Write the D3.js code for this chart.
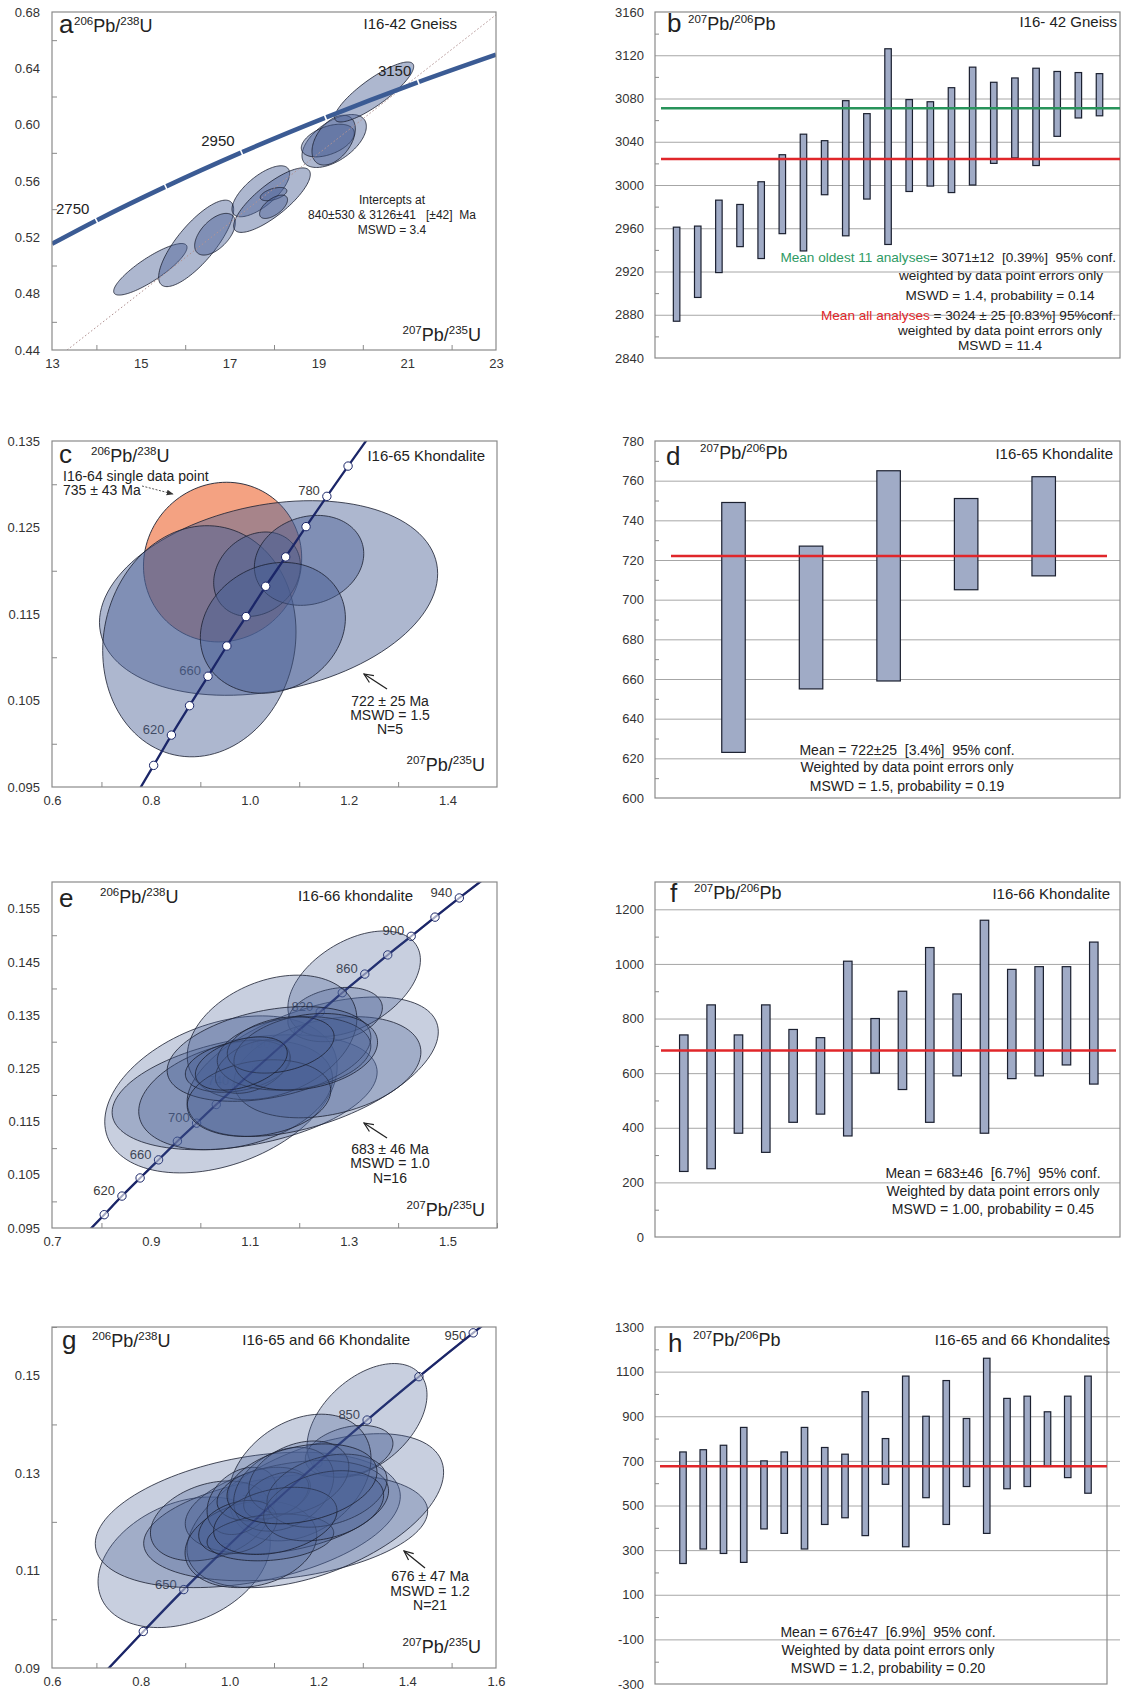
<!DOCTYPE html>
<html>
<head>
<meta charset="utf-8">
<script src="https://cdn.jsdelivr.net/npm/d3@7"></script>
<style>
  body { margin: 0; background: #fff; }
  text { font-family: "Liberation Sans", Arial, Helvetica, sans-serif; }
</style>
</head>
<body>
<script>
// ===================== DATA =====================

// a — I16-42 gneiss, U-Pb concordia (207Pb/235U vs 206Pb/238U)
const aConcAge = [2680, 2750, 2850, 2950, 3050, 3150, 3227];
const aConcX   = [13.00, 14.00, 15.56, 17.27, 19.16, 21.25, 23.00];
const aConcY   = [0.5154, 0.5320, 0.5560, 0.5803, 0.6050, 0.6302, 0.6497];
const aAgeTicks  = [2750, 2850, 2950, 3050, 3150];
const aAgeLabels = [2750, 2950, 3150];
const aDiscX = [13.34, 23.0];
const aDiscY = [0.44, 0.678];
const aEllX   = [15.215, 16.247, 16.671, 17.703, 17.955, 17.99, 17.99, 19.355, 19.212, 19.344, 20.256];
const aEllY   = [0.4973, 0.5157, 0.5222, 0.5527, 0.5464, 0.5507, 0.5417, 0.5884, 0.5887, 0.5890, 0.6232];
const aEllSx  = [0.826, 0.845, 0.458, 0.649, 0.863, 0.300, 0.315, 0.725, 0.597, 0.488, 0.890];
const aEllSy  = [0.0183, 0.0307, 0.0148, 0.0181, 0.0229, 0.0047, 0.0083, 0.0188, 0.0116, 0.0177, 0.0213];
const aEllRho = [0.85, 0.78, 0.55, 0.70, 0.80, 0.50, 0.60, 0.55, 0.45, 0.45, 0.85];
const aXTicks = [13, 15, 17, 19, 21, 23];
const aXMinor = [14, 16, 18, 20, 22];
const aYTicks = [0.44, 0.48, 0.52, 0.56, 0.60, 0.64, 0.68];
const aYMinor = [0.46, 0.50, 0.54, 0.58, 0.62, 0.66];

// b — I16-42 gneiss, 207Pb/206Pb ages (Ma), 2-sigma error bars
const bLow  = [2874, 2896, 2919, 2943, 2932, 2955, 2939, 2991, 2953, 2987, 2945, 2994, 2999, 2993, 3000, 3020, 3025, 3018, 3045, 3062, 3064];
const bHigh = [2961, 2962, 2986, 2982, 3003, 3028, 3047, 3041, 3078, 3066, 3126, 3079, 3077, 3090, 3109, 3095, 3099, 3108, 3105, 3104, 3103];
const bMeanOldest = 3071;
const bMeanAll = 3024;
const bTicks = [2840, 2880, 2920, 2960, 3000, 3040, 3080, 3120, 3160];
const bMinor = [2860, 2900, 2940, 2980, 3020, 3060, 3100, 3140];

// shared Neoproterozoic concordia nodes (age Ma, 207Pb/235U, 206Pb/238U)
const youngAge = [560, 580, 600, 620, 640, 660, 680, 700, 720, 740, 760, 780, 800, 820, 840, 860, 880, 900, 920, 940, 960, 980];
const youngX   = [0.7358, 0.7704, 0.8056, 0.8415, 0.8782, 0.9155, 0.9536, 0.9925, 1.0322, 1.0726, 1.1138, 1.1559, 1.1988, 1.2425, 1.2871, 1.3326, 1.3790, 1.4264, 1.4746, 1.5238, 1.5740, 1.6252];
const youngY   = [0.0908, 0.0941, 0.0975, 0.1010, 0.1044, 0.1078, 0.1113, 0.1147, 0.1182, 0.1216, 0.1251, 0.1286, 0.1321, 0.1356, 0.1392, 0.1427, 0.1463, 0.1498, 0.1534, 0.1570, 0.1606, 0.1642];

// c — I16-65 khondalite (+ I16-64 single point)
const cTickAges  = [600, 620, 640, 660, 680, 700, 720, 740, 760, 780, 800];
const cLabelAges = [620, 660, 700, 740, 780];
const cSingleX = 0.945, cSingleY = 0.1210, cSingleSx = 0.160, cSingleSy = 0.00923, cSingleRho = 0.05;
const cEllX   = [1.038, 0.898, 1.0147, 1.1199, 1.0467];
const cEllY   = [0.11685, 0.11185, 0.1196, 0.1212, 0.1134];
const cEllSx  = [0.342, 0.1955, 0.0877, 0.1106, 0.1467];
const cEllSy  = [0.01125, 0.01336, 0.00488, 0.0052, 0.00756];
const cEllRho = [0.25, 0.08, 0.20, 0.15, 0.15];
const cXTicks = [0.6, 0.8, 1.0, 1.2, 1.4];
const cXMinor = [0.7, 0.9, 1.1, 1.3];
const cYTicks = [0.095, 0.105, 0.115, 0.125, 0.135];
const cYMinor = [0.100, 0.110, 0.120, 0.130];

// d — I16-65 khondalite, 207Pb/206Pb ages
const dLow  = [623, 655, 659, 705, 712];
const dHigh = [749, 727, 765, 751, 762];
const dMean = 722;
const dTicks = [600, 620, 640, 660, 680, 700, 720, 740, 760, 780];
const dMinor = [610, 630, 650, 670, 690, 710, 730, 750, 770];

// e — I16-66 khondalite
const eTickAges  = [600, 620, 640, 660, 680, 700, 720, 740, 760, 780, 800, 820, 840, 860, 880, 900, 920, 940];
const eLabelAges = [620, 660, 700, 740, 780, 820, 860, 900, 940];
const eEllX   = [1.0417, 1.0896, 1.0714, 1.2273, 1.2571, 1.3111, 1.2726, 1.1450, 1.1389, 1.0761, 1.1058, 1.1895, 1.1186, 1.2132, 1.1625, 1.0829];
const eEllY   = [0.1201, 0.1205, 0.1200, 0.1253, 0.1252, 0.1409, 0.1351, 0.1308, 0.1277, 0.1254, 0.1253, 0.1278, 0.1194, 0.1281, 0.1294, 0.1259];
const eEllSx  = [0.235, 0.268, 0.196, 0.254, 0.189, 0.134, 0.0956, 0.1715, 0.206, 0.1064, 0.0753, 0.1553, 0.1452, 0.1452, 0.108, 0.0929];
const eEllSy  = [0.01475, 0.0108, 0.0103, 0.0131, 0.0095, 0.0099, 0.0051, 0.0117, 0.0089, 0.0049, 0.0050, 0.0069, 0.0072, 0.0072, 0.0053, 0.0050];
const eEllRho = [0.35, 0.35, 0.30, 0.50, 0.30, 0.45, 0.25, 0.30, 0.35, 0.30, 0.40, 0.20, 0.20, 0.25, 0.30, 0.40];
const eXTicks = [0.7, 0.9, 1.1, 1.3, 1.5];
const eXMinor = [0.8, 1.0, 1.2, 1.4, 1.6];
const eYTicks = [0.095, 0.105, 0.115, 0.125, 0.135, 0.145, 0.155];
const eYMinor = [0.100, 0.110, 0.120, 0.130, 0.140, 0.150];

// f — I16-66 khondalite, 207Pb/206Pb ages
const fLow  = [240, 250, 380, 310, 420, 450, 370, 600, 540, 420, 590, 380, 580, 590, 630, 560];
const fHigh = [740, 850, 740, 850, 760, 730, 1010, 800, 900, 1060, 890, 1160, 980, 990, 990, 1080];
const fMean = 683;
const fTicks = [0, 200, 400, 600, 800, 1000, 1200];
const fMinor = [100, 300, 500, 700, 900, 1100];

// g — I16-65 and 66 khondalites combined
const gConcAge = [550, 600, 650, 700, 750, 800, 850, 900, 950, 1000];
const gConcX   = [0.7188, 0.8056, 0.8968, 0.9925, 1.0931, 1.1988, 1.3097, 1.4264, 1.5487, 1.6774];
const gConcY   = [0.0891, 0.0975, 0.1061, 0.1147, 0.1234, 0.1321, 0.1409, 0.1498, 0.1588, 0.1678];
const gTickAges  = [600, 650, 700, 750, 800, 850, 900, 950];
const gLabelAges = [650, 750, 850, 950];
const gEllX   = [0.8977, 1.041, 1.1263, 1.193, 1.3095, 1.2692, 1.1582, 1.1291, 0.9568, 1.048, 1.0281, 1.0769, 1.1218, 1.1049, 1.156, 1.0186, 1.0919, 1.2194, 1.2118, 1.103, 1.1631];
const gEllY   = [0.1117, 0.1204, 0.1189, 0.1223, 0.1408, 0.1345, 0.1291, 0.1230, 0.1202, 0.1154, 0.1243, 0.1257, 0.1267, 0.1254, 0.1291, 0.1189, 0.1168, 0.1264, 0.1233, 0.1202, 0.1278];
const gEllSx  = [0.194, 0.3435, 0.3198, 0.289, 0.1351, 0.0987, 0.1603, 0.229, 0.1351, 0.1483, 0.0788, 0.1051, 0.1126, 0.0732, 0.1126, 0.0882, 0.1426, 0.1351, 0.1351, 0.1389, 0.1689];
const gEllSy  = [0.0134, 0.0139, 0.0110, 0.0158, 0.0117, 0.0053, 0.0130, 0.0096, 0.0082, 0.0089, 0.0069, 0.0055, 0.0086, 0.0048, 0.0075, 0.0055, 0.0048, 0.0075, 0.0072, 0.0069, 0.0082];
const gEllRho = [0.30, 0.35, 0.30, 0.50, 0.45, 0.30, 0.30, 0.35, 0.30, 0.20, 0.30, 0.30, 0.30, 0.40, 0.30, 0.30, 0.20, 0.30, 0.30, 0.30, 0.30];
const gXTicks = [0.6, 0.8, 1.0, 1.2, 1.4, 1.6];
const gXMinor = [0.7, 0.9, 1.1, 1.3, 1.5];
const gYTicks = [0.09, 0.11, 0.13, 0.15];
const gYMinor = [0.10, 0.12, 0.14, 0.16];

// h — I16-65 and 66 khondalites, 207Pb/206Pb ages
const hLow  = [240, 305, 285, 245, 395, 375, 305, 415, 445, 365, 595, 315, 535, 415, 585, 375, 575, 585, 675, 625, 555];
const hHigh = [740, 750, 770, 850, 700, 740, 850, 760, 730, 1010, 800, 1080, 900, 1060, 890, 1160, 980, 990, 920, 990, 1080];
const hMean = 676;
const hTicks = [-300, -100, 100, 300, 500, 700, 900, 1100, 1300];
const hMinor = [-200, 0, 200, 400, 600, 800, 1000, 1200];

// ===================== DRAWING =====================
const W = 1121, H = 1693;
const svg = d3.select("body").append("svg")
  .attr("width", W).attr("height", H).style("display", "block");
svg.append("rect").attr("width", W).attr("height", H).attr("fill", "#fff");
const defs = svg.append("defs");

defs.append("marker").attr("id", "arrowOpen")
  .attr("viewBox", "0 0 12 12").attr("refX", 11).attr("refY", 6)
  .attr("markerWidth", 11).attr("markerHeight", 11)
  .attr("markerUnits", "userSpaceOnUse").attr("orient", "auto")
  .append("path").attr("d", "M1,1.5 L11,6 L1,10.5")
  .attr("fill", "none").attr("stroke", "#222").attr("stroke-width", 1.3);
defs.append("marker").attr("id", "arrowSmall")
  .attr("viewBox", "0 0 10 10").attr("refX", 9).attr("refY", 5)
  .attr("markerWidth", 7).attr("markerHeight", 7)
  .attr("markerUnits", "userSpaceOnUse").attr("orient", "auto")
  .append("path").attr("d", "M0,1 L10,5 L0,9 Z").attr("fill", "#333");

const FRAME = "#8a8a8a";
const LABEL = "#333";
const ELL_FILL = "#4a5f94";
const ELL_STROKE = "#1c2233";
const CONC = "#1b2668";

const closedLine = d3.line().curve(d3.curveLinearClosed);
function ellipsePoints(x, y, cx, cy, ax, ay, rho) {
  const k = Math.sqrt(1 - rho * rho);
  return d3.range(120).map(i => {
    const t = i / 120 * 2 * Math.PI;
    return [x(cx + ax * Math.cos(t)), y(cy + ay * (rho * Math.cos(t) + k * Math.sin(t)))];
  });
}

// text with superscript isotope masses, e.g. 206Pb/238U
function isoText(parent, x, y, parts, size, anchor) {
  const t = parent.append("text").attr("x", x).attr("y", y)
    .attr("font-size", size).attr("fill", "#222")
    .attr("text-anchor", anchor || "start");
  let raised = false;
  parts.forEach(([s, sup]) => {
    const ts = t.append("tspan").text(s);
    if (sup) { ts.attr("font-size", size * 0.64); if (!raised) ts.attr("dy", -size * 0.38); raised = true; }
    else { if (raised) ts.attr("dy", size * 0.38); raised = false; }
  });
  return t;
}
const PB206_U238 = [["206", 1], ["Pb/", 0], ["238", 1], ["U", 0]];
const PB207_U235 = [["207", 1], ["Pb/", 0], ["235", 1], ["U", 0]];
const PB207_PB206 = [["207", 1], ["Pb/", 0], ["206", 1], ["Pb", 0]];

function plainText(parent, x, y, str, size, anchor, color) {
  return parent.append("text").attr("x", x).attr("y", y)
    .attr("font-size", size).attr("fill", color || "#222")
    .attr("text-anchor", anchor || "start")
    .style("white-space", "pre").text(str);
}

function styleAxis(s) {
  s.select(".domain").remove();
  s.selectAll("text").attr("font-size", 13).attr("fill", LABEL)
    .attr("font-family", "Liberation Sans, Arial, sans-serif");
  s.selectAll("line").attr("stroke", FRAME);
}

function makeFrame(g, box) {
  g.append("rect").attr("x", box[0]).attr("y", box[1])
    .attr("width", box[2] - box[0]).attr("height", box[3] - box[1])
    .attr("fill", "none").attr("stroke", FRAME).attr("stroke-width", 1.2);
}

// ---------- concordia-style panel ----------
function concordiaPanel(id, box, xDomain, yDomain, xTicks, xMinor, xFmt, yTicks, yMinor, yFmt) {
  const g = svg.append("g");
  const x = d3.scaleLinear().domain(xDomain).range([box[0], box[2]]);
  const y = d3.scaleLinear().domain(yDomain).range([box[3], box[1]]);
  defs.append("clipPath").attr("id", "clip-" + id).append("rect")
    .attr("x", box[0]).attr("y", box[1]).attr("width", box[2] - box[0]).attr("height", box[3] - box[1]);
  const under = g.append("g");
  const inner = g.append("g").attr("clip-path", `url(#clip-${id})`);

  g.append("g").attr("transform", `translate(${box[0]},0)`)
    .call(d3.axisLeft(y).tickValues(yTicks).tickSize(0).tickPadding(12).tickFormat(d3.format(yFmt)))
    .call(styleAxis);
  g.append("g").attr("transform", `translate(0,${box[3]})`)
    .call(d3.axisBottom(x).tickValues(xTicks).tickSize(0).tickPadding(9).tickFormat(d3.format(xFmt)))
    .call(styleAxis);
  g.append("g").attr("transform", `translate(${box[0]},0)`)
    .call(d3.axisLeft(y).tickValues(yMinor).tickSize(-5).tickFormat(""))
    .call(styleAxis);
  g.append("g").attr("transform", `translate(0,${box[3]})`)
    .call(d3.axisBottom(x).tickValues(xMinor).tickSize(-5).tickFormat(""))
    .call(styleAxis);
  return { g, under, inner, x, y, box };
}

function drawEllipses(P, X, Y, SX, SY, R, opacity) {
  P.inner.append("g").selectAll("path").data(d3.range(X.length)).join("path")
    .attr("d", i => closedLine(ellipsePoints(P.x, P.y, X[i], Y[i], SX[i], SY[i], R[i])))
    .attr("fill", ELL_FILL).attr("fill-opacity", opacity)
    .attr("stroke", ELL_STROKE).attr("stroke-width", 0.9).attr("stroke-opacity", 0.9);
}

function concordiaPath(P, ages, X, Y) {
  return d3.line().x(i => P.x(X[i])).y(i => P.y(Y[i])).curve(d3.curveMonotoneX)(d3.range(ages.length));
}
function drawYoungConcordia(P, ages, X, Y, tickAges, layer) {
  layer.append("path").attr("d", concordiaPath(P, ages, X, Y))
    .attr("fill", "none").attr("stroke", CONC).attr("stroke-width", 2.3);
  layer.append("g").selectAll("circle").data(tickAges).join("circle")
    .attr("cx", a => P.x(X[ages.indexOf(a)]))
    .attr("cy", a => P.y(Y[ages.indexOf(a)]))
    .attr("r", 4.2).attr("fill", "#fff").attr("stroke", CONC).attr("stroke-width", 1);
}
function drawAgeLabels(P, ages, X, Y, labelAges, size) {
  P.under.append("g").selectAll("text").data(labelAges).join("text")
    .attr("x", a => P.x(X[ages.indexOf(a)]) - 7)
    .attr("y", a => Math.max(P.y(Y[ages.indexOf(a)]) - 1, P.box[1] + 13))
    .attr("text-anchor", "end").attr("font-size", size).attr("fill", "#3a3a3a")
    .text(a => a);
}

// ---------- bar (weighted mean) panel ----------
function barPanel(box, gridRight, yDomain, ticks, minor, low, high, barRange, barW) {
  const g = svg.append("g");
  const y = d3.scaleLinear().domain(yDomain).range([box[3], box[1]]);
  const x = d3.scalePoint().domain(d3.range(low.length)).range(barRange);
  const inner = ticks.filter(t => t > yDomain[0] && t < yDomain[1]);
  g.append("g").attr("transform", `translate(${box[0]},0)`)
    .call(d3.axisLeft(y).tickValues(inner).tickSize(-(gridRight - box[0])).tickFormat(""))
    .call(styleAxis)
    .call(s => s.selectAll("line").attr("stroke", "#a6a6a6").attr("stroke-width", 1));
  g.append("g").attr("transform", `translate(${box[0]},0)`)
    .call(d3.axisLeft(y).tickValues(ticks).tickSize(0).tickPadding(11).tickFormat(d => String(d)))
    .call(styleAxis);
  g.append("g").attr("transform", `translate(${box[0]},0)`)
    .call(d3.axisLeft(y).tickValues(minor).tickSize(-4).tickFormat(""))
    .call(styleAxis);
  makeFrame(g, box);
  g.append("g").selectAll("rect").data(d3.range(low.length)).join("rect")
    .attr("x", i => x(i) - barW / 2).attr("width", barW)
    .attr("y", i => y(high[i])).attr("height", i => y(low[i]) - y(high[i]))
    .attr("fill", "#a0abc6").attr("stroke", "#1b2030").attr("stroke-width", 1.2);
  return { g, x, y };
}
function meanLine(P, value, x0, x1, color) {
  P.g.append("line").attr("x1", x0).attr("x2", x1)
    .attr("y1", P.y(value)).attr("y2", P.y(value))
    .attr("stroke", color).attr("stroke-width", 2.4);
}

// ---------- layout ----------
const boxA = [52, 12, 496, 350];
const boxB = [655, 12, 1120, 358];
const boxC = [52, 441, 497, 787];
const boxD = [655, 441, 1120, 798];
const boxE = [52, 882, 497, 1228];
const boxF = [655, 882, 1120, 1237];
const boxG = [52, 1327, 496, 1668];
const boxH = [655, 1327, 1107, 1684];

// ===== a =====
{
  const P = concordiaPanel("a", boxA, [13, 23], [0.44, 0.68], aXTicks, aXMinor, "d", aYTicks, aYMinor, ".2f");
  drawEllipses(P, aEllX, aEllY, aEllSx, aEllSy, aEllRho, 0.45);
  P.inner.append("line")
    .attr("x1", P.x(aDiscX[0])).attr("y1", P.y(aDiscY[0]))
    .attr("x2", P.x(aDiscX[1])).attr("y2", P.y(aDiscY[1]))
    .attr("stroke", "#b39494").attr("stroke-width", 1).attr("stroke-dasharray", "1.6,2.2");
  P.inner.append("path").attr("d", concordiaPath(P, aConcAge, aConcX, aConcY))
    .attr("fill", "none").attr("stroke", "#3b5b94").attr("stroke-width", 4.6);
  // age ticks as small white breaks across the curve
  aAgeTicks.forEach(age => {
    const i = aConcAge.indexOf(age);
    const px = P.x(aConcX[i]), py = P.y(aConcY[i]);
    const dx = P.x(aConcX[i + 1]) - P.x(aConcX[i - 1]);
    const dy = P.y(aConcY[i + 1]) - P.y(aConcY[i - 1]);
    const len = Math.hypot(dx, dy), nx = -dy / len, ny = dx / len;
    P.inner.append("line")
      .attr("x1", px - nx * 4).attr("y1", py - ny * 4)
      .attr("x2", px + nx * 4).attr("y2", py + ny * 4)
      .attr("stroke", "#fff").attr("stroke-width", 1.6);
  });
  P.g.append("g").selectAll("text").data(aAgeLabels).join("text")
    .attr("x", a => P.x(aConcX[aConcAge.indexOf(a)]) - 7)
    .attr("y", a => P.y(aConcY[aConcAge.indexOf(a)]) - 6)
    .attr("text-anchor", "end").attr("font-size", 15).attr("fill", "#222").text(a => a);
  makeFrame(P.g, boxA);
  plainText(P.g, 59, 33, "a", 26);
  isoText(P.g, 74, 32, PB206_U238, 18);
  plainText(P.g, 457, 29, "I16-42 Gneiss", 15, "end");
  plainText(P.g, 392, 204, "Intercepts at", 12, "middle");
  plainText(P.g, 392, 219, "840±530 & 3126±41   [±42]  Ma", 12, "middle");
  plainText(P.g, 392, 234, "MSWD = 3.4", 12, "middle");
  isoText(P.g, 481, 341, PB207_U235, 18, "end");
}

// ===== b =====
{
  const P = barPanel(boxB, 1120, [2840, 3160], bTicks, bMinor, bLow, bHigh, [676.6, 1099.5], 6.5);
  meanLine(P, bMeanOldest, 661, 1120, "#27935a");
  meanLine(P, bMeanAll, 661, 1120, "#e0262a");
  plainText(P.g, 667, 32, "b", 26);
  isoText(P.g, 688, 30, PB207_PB206, 18);
  plainText(P.g, 1117, 27, "I16- 42 Gneiss", 15, "end");
  const t1 = P.g.append("text").attr("x", 1116).attr("y", 262).attr("text-anchor", "end")
    .attr("font-size", 13.6).attr("fill", "#222").style("white-space", "pre");
  t1.append("tspan").attr("fill", "#2e9a64").text("Mean oldest 11 analyses");
  t1.append("tspan").text("= 3071±12  [0.39%]  95% conf.");
  plainText(P.g, 1001, 280, "weighted by data point errors only", 13.6, "middle");
  plainText(P.g, 1000, 300, "MSWD = 1.4, probability = 0.14", 13.6, "middle");
  const t2 = P.g.append("text").attr("x", 1116).attr("y", 320).attr("text-anchor", "end")
    .attr("font-size", 13.6).attr("fill", "#222").style("white-space", "pre");
  t2.append("tspan").attr("fill", "#e0262a").text("Mean all analyses");
  t2.append("tspan").text(" = 3024 ± 25 [0.83%] 95%conf.");
  plainText(P.g, 1000, 335, "weighted by data point errors only", 13.6, "middle");
  plainText(P.g, 1000, 350, "MSWD = 11.4", 13.6, "middle");
}

// ===== c =====
{
  const P = concordiaPanel("c", boxC, [0.6, 1.5], [0.095, 0.135], cXTicks, cXMinor, ".1f", cYTicks, cYMinor, ".3f");
  drawAgeLabels(P, youngAge, youngX, youngY, cLabelAges, 13);
  P.inner.append("path")
    .attr("d", closedLine(ellipsePoints(P.x, P.y, cSingleX, cSingleY, cSingleSx, cSingleSy, cSingleRho)))
    .attr("fill", "#f4a282").attr("stroke", ELL_STROKE).attr("stroke-width", 0.9);
  drawEllipses(P, cEllX, cEllY, cEllSx, cEllSy, cEllRho, 0.45);
  drawYoungConcordia(P, youngAge, youngX, youngY, cTickAges, P.inner.append("g"));
  makeFrame(P.g, boxC);
  plainText(P.g, 59, 463, "c", 26);
  isoText(P.g, 91, 462, PB206_U238, 18);
  plainText(P.g, 485, 461, "I16-65 Khondalite", 15, "end");
  plainText(P.g, 63, 481, "I16-64 single data point", 14);
  plainText(P.g, 63, 495, "735 ± 43 Ma", 14);
  P.g.append("line").attr("x1", 142).attr("y1", 486).attr("x2", 173).attr("y2", 494)
    .attr("stroke", "#444").attr("stroke-width", 0.9).attr("stroke-dasharray", "2,1.5")
    .attr("marker-end", "url(#arrowSmall)");
  P.g.append("line").attr("x1", 387).attr("y1", 689).attr("x2", 364).attr("y2", 674)
    .attr("stroke", "#222").attr("stroke-width", 1.3).attr("marker-end", "url(#arrowOpen)");
  plainText(P.g, 390, 706, "722 ± 25 Ma", 14, "middle");
  plainText(P.g, 390, 720, "MSWD = 1.5", 14, "middle");
  plainText(P.g, 390, 734, "N=5", 14, "middle");
  isoText(P.g, 485, 771, PB207_U235, 18, "end");
}

// ===== d =====
{
  const P = barPanel(boxD, 1120, [600, 780], dTicks, dMinor, dLow, dHigh, [733.5, 1043.7], 23.5);
  meanLine(P, dMean, 671, 1107, "#e0262a");
  plainText(P.g, 666, 465, "d", 26);
  isoText(P.g, 700, 459, PB207_PB206, 18);
  plainText(P.g, 1113, 459, "I16-65 Khondalite", 15, "end");
  plainText(P.g, 907, 755, "Mean = 722±25  [3.4%]  95% conf.", 14, "middle");
  plainText(P.g, 907, 772, "Weighted by data point errors only", 14, "middle");
  plainText(P.g, 907, 791, "MSWD = 1.5, probability = 0.19", 14, "middle");
}

// ===== e =====
{
  const P = concordiaPanel("e", boxE, [0.7, 1.6], [0.095, 0.16], eXTicks, eXMinor, ".1f", eYTicks, eYMinor, ".3f");
  drawAgeLabels(P, youngAge, youngX, youngY, eLabelAges, 13);
  drawYoungConcordia(P, youngAge, youngX, youngY, eTickAges, P.inner.append("g"));
  drawEllipses(P, eEllX, eEllY, eEllSx, eEllSy, eEllRho, 0.3);
  P.inner.append("path").attr("d", concordiaPath(P, youngAge, youngX, youngY))
    .attr("fill", "none").attr("stroke", CONC).attr("stroke-width", 2).attr("stroke-opacity", 0.4);
  makeFrame(P.g, boxE);
  plainText(P.g, 59, 907, "e", 26);
  isoText(P.g, 100, 903, PB206_U238, 18);
  plainText(P.g, 413, 901, "I16-66 khondalite", 15, "end");
  P.g.append("line").attr("x1", 387).attr("y1", 1138).attr("x2", 364).attr("y2", 1123)
    .attr("stroke", "#222").attr("stroke-width", 1.3).attr("marker-end", "url(#arrowOpen)");
  plainText(P.g, 390, 1154, "683 ± 46 Ma", 14, "middle");
  plainText(P.g, 390, 1168, "MSWD = 1.0", 14, "middle");
  plainText(P.g, 390, 1183, "N=16", 14, "middle");
  isoText(P.g, 485, 1216, PB207_U235, 18, "end");
}

// ===== f =====
{
  const P = barPanel(boxF, 1120, [0, 1300], fTicks, fMinor, fLow, fHigh, [683.8, 1093.8], 8.5);
  meanLine(P, fMean, 661, 1116, "#e0262a");
  plainText(P.g, 670, 902, "f", 26);
  isoText(P.g, 694, 899, PB207_PB206, 18);
  plainText(P.g, 1110, 899, "I16-66 Khondalite", 15, "end");
  plainText(P.g, 993, 1178, "Mean = 683±46  [6.7%]  95% conf.", 14, "middle");
  plainText(P.g, 993, 1196, "Weighted by data point errors only", 14, "middle");
  plainText(P.g, 993, 1214, "MSWD = 1.00, probability = 0.45", 14, "middle");
}

// ===== g =====
{
  const P = concordiaPanel("g", boxG, [0.6, 1.6], [0.09, 0.16], gXTicks, gXMinor, ".1f", gYTicks, gYMinor, ".2f");
  drawAgeLabels(P, gConcAge, gConcX, gConcY, gLabelAges, 13);
  drawYoungConcordia(P, gConcAge, gConcX, gConcY, gTickAges, P.inner.append("g"));
  drawEllipses(P, gEllX, gEllY, gEllSx, gEllSy, gEllRho, 0.3);
  P.inner.append("path").attr("d", concordiaPath(P, gConcAge, gConcX, gConcY))
    .attr("fill", "none").attr("stroke", CONC).attr("stroke-width", 2).attr("stroke-opacity", 0.4);
  makeFrame(P.g, boxG);
  plainText(P.g, 62, 1349, "g", 26);
  isoText(P.g, 92, 1347, PB206_U238, 18);
  plainText(P.g, 410, 1345, "I16-65 and 66 Khondalite", 15, "end");
  P.g.append("line").attr("x1", 425).attr("y1", 1568).attr("x2", 404).attr("y2", 1551)
    .attr("stroke", "#222").attr("stroke-width", 1.3).attr("marker-end", "url(#arrowOpen)");
  plainText(P.g, 430, 1581, "676 ± 47 Ma", 14, "middle");
  plainText(P.g, 430, 1596, "MSWD = 1.2", 14, "middle");
  plainText(P.g, 430, 1610, "N=21", 14, "middle");
  isoText(P.g, 481, 1653, PB207_U235, 18, "end");
}

// ===== h =====
{
  const P = barPanel(boxH, 1120, [-300, 1300], hTicks, hMinor, hLow, hHigh, [683, 1088], 6.5);
  meanLine(P, hMean, 660, 1107, "#e0262a");
  plainText(P.g, 668, 1352, "h", 26);
  isoText(P.g, 693, 1346, PB207_PB206, 18);
  plainText(P.g, 1110, 1345, "I16-65 and 66 Khondalites", 15, "end");
  plainText(P.g, 888, 1637, "Mean = 676±47  [6.9%]  95% conf.", 14, "middle");
  plainText(P.g, 888, 1655, "Weighted by data point errors only", 14, "middle");
  plainText(P.g, 888, 1673, "MSWD = 1.2, probability = 0.20", 14, "middle");
}
</script>
</body>
</html>
